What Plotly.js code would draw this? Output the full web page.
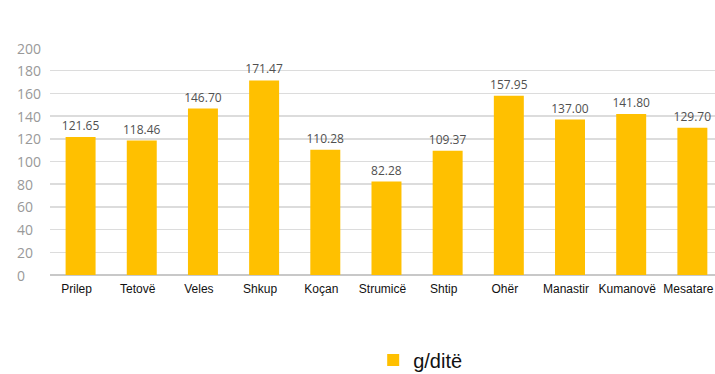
<!DOCTYPE html>
<html>
<head>
<meta charset="utf-8">
<script src="https://cdn.plot.ly/plotly-3.0.1.min.js"></script>
<style>html,body{margin:0;padding:0;background:#fff;}#chart{width:715px;height:374px;}</style>
</head>
<body>
<div id="chart"></div>
<script>
const categories = ["Prilep","Tetovë","Veles","Shkup","Koçan","Strumicë","Shtip","Ohër","Manastir","Kumanovë","Mesatare"];
const values = [121.65, 118.46, 146.70, 171.47, 110.28, 82.28, 109.37, 157.95, 137.00, 141.80, 129.70];
const seriesName = "g/ditë";
const yTicks = [0,20,40,60,80,100,120,140,160,180,200];

const trace = {
  type: 'bar',
  x: categories,
  y: values,
  name: seriesName,
  marker: {color: '#FFC000'},
  text: values.map(v => v.toFixed(2)),
  texttemplate: '%{text}',
  textposition: 'outside',
  constraintext: 'none',
  cliponaxis: false,
  textfont: {family: 'Open Sans, sans-serif', size: 12, color: '#505050'},
  hoverinfo: 'none'
};

// left-aligned y tick labels, positioned by the y axis scale
const yLabelAnnotations = yTicks.map(v => ({
  xref: 'paper', yref: 'y',
  x: -0.053, y: v,
  xanchor: 'left', yanchor: 'middle',
  text: String(v),
  showarrow: false,
  font: {family: 'Open Sans, sans-serif', size: 14, color: '#999999'}
}));

const layout = {
  width: 715, height: 374,
  margin: {l: 50, r: 0, t: 48, b: 99, autoexpand: false},
  paper_bgcolor: '#fff', plot_bgcolor: '#fff',
  showlegend: true,
  bargap: 0.51,
  xaxis: {
    type: 'category',
    range: [-0.5, 10.37],
    showgrid: false,
    showline: false,
    zeroline: false,
    ticks: '',
    ticklabelstandoff: 5,
    ticklabelshift: -4,
    automargin: false,
    tickfont: {family: 'Liberation Sans, Arial, sans-serif', size: 12, color: '#111'}
  },
  yaxis: {
    range: [0, 200],
    tickvals: yTicks,
    showticklabels: false,
    showgrid: true,
    gridcolor: '#dcdcdc',
    gridwidth: 1.5,
    zeroline: true,
    zerolinecolor: '#c8c8c8',
    zerolinewidth: 1.5,
    showline: false,
    ticks: '',
    automargin: false
  },
  annotations: yLabelAnnotations,
  legend: {
    orientation: 'h',
    x: 0.486, xanchor: 'left',
    y: -0.374, yanchor: 'middle',
    font: {family: 'Liberation Sans, Arial, sans-serif', size: 20, color: '#111'},
    bgcolor: 'rgba(0,0,0,0)'
  }
};

Plotly.newPlot('chart', [trace], layout, {displayModeBar: false, staticPlot: true});
</script>
</body>
</html>
